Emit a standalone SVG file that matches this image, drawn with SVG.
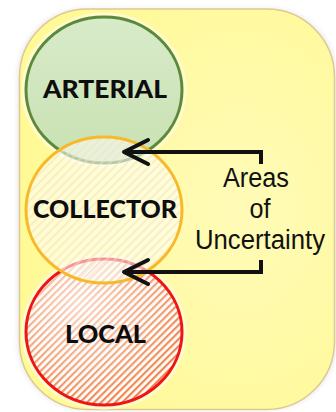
<svg xmlns="http://www.w3.org/2000/svg" width="336" height="412" viewBox="0 0 336 412">
  <style>
    .label { font-family: Lato, "Open Sans", "DejaVu Sans", sans-serif; font-weight: 900; font-size: 25px; fill: #0d0d0d; text-anchor: middle; }
    .note { font-family: "Liberation Sans", Arial, sans-serif; font-size: 27px; fill: #111; text-anchor: middle; }
    .conn { fill: none; stroke: #111; stroke-width: 4; }
    .glow { fill: none; stroke: #fffbcf; stroke-width: 9; }
  </style>
  <defs>
    <radialGradient id="bgGrad" cx="0.7" cy="0.5" r="0.7">
      <stop offset="0" stop-color="#fffbb8"/>
      <stop offset="1" stop-color="#fff996"/>
    </radialGradient>
    <linearGradient id="greenGrad" x1="0" y1="0" x2="0" y2="1">
      <stop offset="0" stop-color="#d8ebca"/>
      <stop offset="1" stop-color="#c8e1b2"/>
    </linearGradient>
    <pattern id="hatchLocal" patternUnits="userSpaceOnUse" width="5" height="5" patternTransform="rotate(45)">
      <rect width="5" height="5" fill="#ffffff"/>
      <rect width="2.2" height="5" fill="#ee7a3c"/>
    </pattern>
    <radialGradient id="localLight" cx="0.35" cy="0.3" r="0.8">
      <stop offset="0" stop-color="#ffffff" stop-opacity="0.7"/>
      <stop offset="0.6" stop-color="#ffffff" stop-opacity="0.3"/>
      <stop offset="1" stop-color="#ffffff" stop-opacity="0"/>
    </radialGradient>
    <pattern id="hatchColl" patternUnits="userSpaceOnUse" width="6" height="6" patternTransform="rotate(45)">
      <rect width="6" height="6" fill="#ffffff" fill-opacity="0.55"/>
      <rect width="2" height="6" fill="#f1e2b4" fill-opacity="0.5"/>
    </pattern>
    <filter id="shadow" x="-10%" y="-10%" width="120%" height="120%">
      <feGaussianBlur stdDeviation="2"/>
    </filter>
    <marker id="chevron" markerUnits="userSpaceOnUse" viewBox="0 0 30 30" refX="27" refY="15" markerWidth="30" markerHeight="30" orient="auto">
      <path d="M3,3 L27,15 L3,27" fill="none" stroke="#111" stroke-width="4" stroke-linejoin="round" stroke-linecap="round"/>
    </marker>
  </defs>

  <g id="background">
    <rect x="17" y="8" width="320" height="402" rx="68" fill="#d5d5d5" opacity="0.45" filter="url(#shadow)"/>
    <rect x="19.5" y="9" width="315" height="400.5" rx="68" fill="url(#bgGrad)" stroke="#dfc990" stroke-width="1.5"/>
  </g>

  <g id="arterial">
    <ellipse cx="104" cy="90" rx="78" ry="73" class="glow"/>
    <ellipse cx="104" cy="90" rx="78" ry="73" fill="url(#greenGrad)" stroke="#5b8a3a" stroke-width="3"/>
    <text class="label" x="105" y="98" textLength="124" lengthAdjust="spacingAndGlyphs">ARTERIAL</text>
  </g>

  <g id="local">
    <ellipse cx="104" cy="332" rx="78" ry="73" class="glow"/>
    <ellipse cx="104" cy="332" rx="78" ry="73" fill="url(#hatchLocal)"/>
    <ellipse cx="104" cy="332" rx="78" ry="73" fill="url(#localLight)" stroke="#ee1515" stroke-width="3"/>
    <text class="label" x="105.5" y="343" textLength="81" lengthAdjust="spacingAndGlyphs">LOCAL</text>
  </g>

  <g id="collector">
    <ellipse cx="104" cy="210" rx="78" ry="73" fill="url(#hatchColl)" stroke="#f7b928" stroke-width="3"/>
    <text class="label" x="105" y="218" textLength="144" lengthAdjust="spacingAndGlyphs">COLLECTOR</text>
  </g>

  <g id="note">
    <text class="note" x="256" y="187" textLength="66" lengthAdjust="spacingAndGlyphs">Areas</text>
    <text class="note" x="260" y="218" textLength="21" lengthAdjust="spacingAndGlyphs">of</text>
    <text class="note" x="260" y="249" textLength="130" lengthAdjust="spacingAndGlyphs">Uncertainty</text>
  </g>

  <g id="connectors">
    <path class="conn" d="M261,164 V152 H124" marker-end="url(#chevron)"/>
    <path class="conn" d="M261,260 V272 H124" marker-end="url(#chevron)"/>
  </g>
</svg>
